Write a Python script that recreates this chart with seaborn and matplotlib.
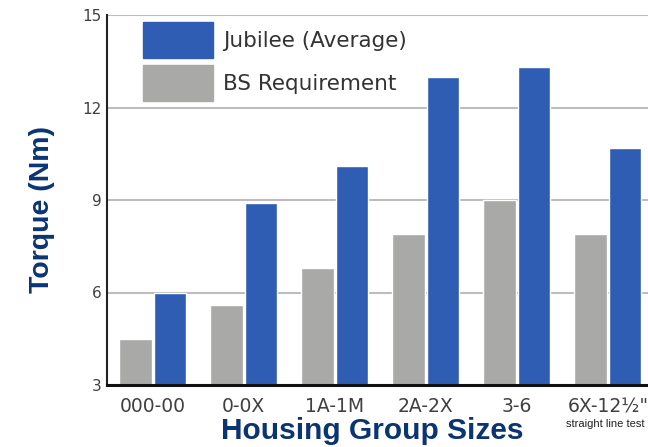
import pandas as pd
import seaborn as sns
import matplotlib.pyplot as plt
from matplotlib.patches import Patch

groups = ["000-00", "0-0X", "1A-1M", "2A-2X", "3-6", "6X-12\u00bd\""]
bs_requirement = [4.5, 5.6, 6.8, 7.9, 9.0, 7.9]
jubilee_avg = [6.0, 8.9, 10.1, 13.0, 13.3, 10.7]
series = ["BS Requirement", "Jubilee (Average)"]
colors = {"BS Requirement": "#a9a9a7", "Jubilee (Average)": "#2f5db4"}

df = pd.DataFrame({
    "group": groups * 2,
    "series": [series[0]] * len(groups) + [series[1]] * len(groups),
    "torque": bs_requirement + jubilee_avg,
})

sns.set_style("white")
plt.rcParams['font.family'] = ['Liberation Sans', 'DejaVu Sans']

fig = plt.figure(figsize=(6.48, 4.47), dpi=100)
ax = fig.add_axes([107/648, 1-385/447, 1-107/648, (385-15)/447])

sns.barplot(data=df, x="group", y="torque", hue="series", hue_order=series,
            palette=colors, width=0.76, gap=0.06, ax=ax, saturation=1, legend=False)

ax.set_ylim(3, 15)
ax.set_xlim(-0.5, 5.44)
ax.set_yticks([3, 6, 9, 12, 15])
ax.yaxis.grid(True, color="#bdbdbd", lw=1.5)
ax.set_axisbelow(True)
for s in ["top", "right"]:
    ax.spines[s].set_visible(False)
ax.spines["left"].set_color("#222222")
ax.spines["left"].set_linewidth(1.5)
ax.spines["bottom"].set_color("#111111")
ax.spines["bottom"].set_linewidth(2.2)
ax.tick_params(axis="both", length=0, colors="#404040")
ax.tick_params(axis="x", labelsize=13.5, pad=9)
ax.tick_params(axis="y", labelsize=11, pad=4)
for lbl in ax.get_xticklabels() + ax.get_yticklabels():
    lbl.set_family('DejaVu Sans')
ax.get_xticklabels()[-1].set_x(5.0)
ax.get_xticklabels()[-1].set_ha("center")

ax.set_xlabel("Housing Group Sizes", fontsize=21.5, fontweight="bold", color="#0b3473")
ax.xaxis.set_label_coords(0.49, -0.086)
ax.set_ylabel("Torque (Nm)", fontsize=20.5, fontweight="bold", color="#0b3473")
ax.yaxis.set_label_coords(-0.096, 0.473)

handles = [Patch(color=colors["Jubilee (Average)"], label="Jubilee (Average)"),
           Patch(color=colors["BS Requirement"], label="BS Requirement")]
leg = ax.legend(handles=handles, loc="upper left", bbox_to_anchor=(0.0665, 0.981),
                frameon=False, handlelength=3.25, handleheight=2.19,
                labelspacing=0.33, handletextpad=0.46, borderaxespad=0, borderpad=0,
                prop={"family": "DejaVu Sans", "size": 15.5})
for t in leg.get_texts():
    t.set_color("#333333")

fig.text(605/648, 1-424/447, "straight line test", fontsize=8, ha="center", va="center",
         color="#222222", family=['Liberation Sans Narrow', 'Liberation Sans', 'DejaVu Sans'])

plt.savefig("out.png", dpi=100)
